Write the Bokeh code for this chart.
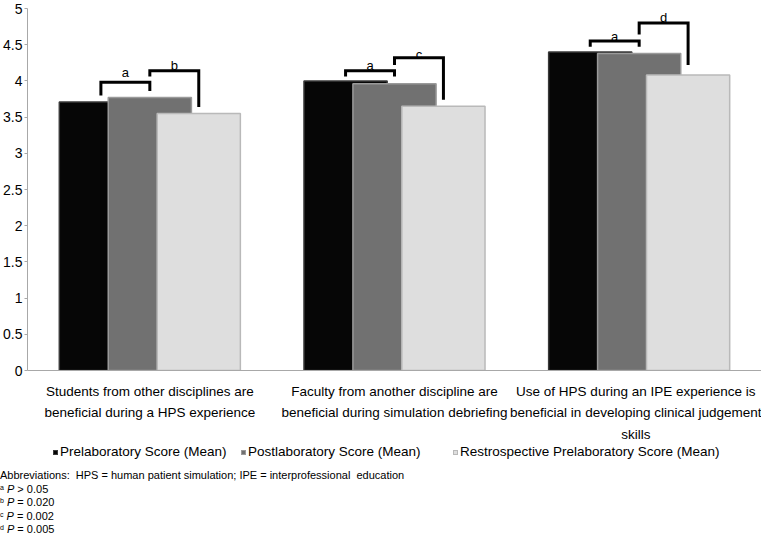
from bokeh.plotting import figure
from bokeh.layouts import column
from bokeh.models import FixedTicker, Div
from bokeh.core.properties import value
from bokeh.embed import file_html
from bokeh.resources import INLINE

# ---------------- data ----------------
categories = [
    "Students from other disciplines are\nbeneficial during a HPS experience",
    "Faculty from another discipline are\nbeneficial during simulation debriefing",
    "Use of HPS during an IPE experience is\nbeneficial in developing clinical judgement\nskills",
]
series_names = [
    "Prelaboratory Score (Mean)",
    "Postlaboratory Score (Mean)",
    "Restrospective Prelaboratory Score (Mean)",
]
prelab = [3.71, 4.00, 4.40]
postlab = [3.77, 3.96, 4.38]
retro = [3.55, 3.65, 4.08]

y_ticks = [0, 0.5, 1, 1.5, 2, 2.5, 3, 3.5, 4, 4.5, 5]
y_tick_labels = ["0", "0.5", "1", "1.5", "2", "2.5", "3", "3.5", "4", "4.5", "5"]

# significance brackets (group, from-series, to-series, heights)
bracket_group = [0, 0, 1, 1, 2, 2]
bracket_label = ["a", "b", "a", "c", "a", "d"]
bracket_from = [0, 1, 0, 1, 0, 1]
bracket_to = [1, 2, 1, 2, 1, 2]
bracket_top = [3.98, 4.14, 4.14, 4.32, 4.55, 4.80]
bracket_left_end = [3.80, 4.06, 4.06, 4.22, 4.47, 4.64]
bracket_right_end = [3.86, 3.64, 4.06, 3.74, 4.47, 4.22]
bracket_label_y = [4.12, 4.21, 4.21, 4.37, 4.62, 4.88]

abbreviation_note = "Abbreviations:&nbsp; HPS = human patient simulation; IPE = interprofessional&nbsp; education"
footnote_letters = ["a", "b", "c", "d"]
footnote_rest = ["&gt; 0.05", "= 0.020", "= 0.002", "= 0.005"]

# ---------------- styling ----------------
FONT = "Liberation Sans"
fills = ["#060606", "#717171", "#dedede"]
edges = ["#3a3a3a", "#9a9a9a", "#b9b9b9"]
offsets = [-0.2, 0.0, 0.2]
bar_w = 0.34
legend_left = [53, 241, 453]

p = figure(frame_width=734, frame_height=362, x_range=(0, 3), y_range=(0, 5),
           output_backend="svg", toolbar_location=None,
           min_border_top=8, min_border_left=22, min_border_right=0,
           min_border_bottom=66)
p.outline_line_color = None
p.xgrid.visible = False
p.ygrid.visible = False
p.background_fill_color = "white"

centers = [i + 0.5 for i in range(len(categories))]
series = [prelab, postlab, retro]
for k, vals in enumerate(series):
    xs = [c + offsets[k] for c in centers]
    p.vbar(x=xs, top=vals, width=bar_w, bottom=0,
           fill_color=fills[k], line_color=edges[k], line_width=1.5)

# brackets
bx, by = [], []
lx, ly = [], []
for g, f, t, top, le, re_, lyv in zip(bracket_group, bracket_from, bracket_to,
                                      bracket_top, bracket_left_end,
                                      bracket_right_end, bracket_label_y):
    x0 = centers[g] + offsets[f]
    x1 = centers[g] + offsets[t]
    bx.append([x0, x0, x1, x1])
    by.append([le, top, top, re_])
    lx.append((x0 + x1) / 2)
    ly.append(lyv)
p.multi_line(xs=bx, ys=by, line_color="black", line_width=3, line_join="miter")
p.text(x=lx, y=ly, text=bracket_label, text_align="center",
       text_baseline="middle", text_font=value(FONT),
       text_font_size="13px", text_color="#000000")

# axes
p.xaxis.ticker = FixedTicker(ticks=centers)
p.xaxis.major_label_overrides = {c: lab for c, lab in zip(centers, categories)}
p.xaxis.major_tick_line_color = None
p.xaxis.minor_tick_line_color = None
p.xaxis.axis_line_color = "#a8a8a8"
p.xaxis.major_label_standoff = 7
p.xaxis.major_label_text_font = FONT
p.xaxis.major_label_text_font_size = "13.5px"
p.xaxis.major_label_text_color = "black"
p.xaxis.major_label_text_line_height = 1.45

p.yaxis.ticker = FixedTicker(ticks=y_ticks)
p.yaxis.major_label_overrides = {t: s for t, s in zip(y_ticks, y_tick_labels)}
p.yaxis.axis_line_color = "#a8a8a8"
p.yaxis.major_tick_line_color = "#a8a8a8"
p.yaxis.major_tick_out = 3
p.yaxis.major_tick_in = 0
p.yaxis.minor_tick_line_color = None
p.yaxis.major_label_standoff = 2
p.yaxis.major_label_text_font = FONT
p.yaxis.major_label_text_font_size = "14px"
p.yaxis.major_label_text_color = "black"

# ---------------- legend + footnotes (HTML below the plot) ----------------
items = []
for k, name in enumerate(series_names):
    items.append(
        f'<div style="position:absolute;left:{legend_left[k]}px;top:0px;'
        f'height:14px;line-height:14px;white-space:nowrap;font-size:13.5px;">'
        f'<span style="display:inline-block;width:5px;height:5px;'
        f'background:{fills[k]};border:1px solid {edges[k]};'
        f'vertical-align:1px;margin-right:2px;"></span>{name}</div>'
    )
notes = [f'<div>{abbreviation_note}</div>']
for letter, rest in zip(footnote_letters, footnote_rest):
    notes.append(
        f'<div><span style="font-size:7px;vertical-align:3px;">{letter}</span>'
        f'&nbsp;<i>P</i> {rest}</div>'
    )
html = (
    f'<div style="position:relative;width:759px;height:84px;'
    f'font-family:\'{FONT}\';color:#000;">'
    + "".join(items)
    + '<div style="position:absolute;left:0px;top:25px;font-size:11px;'
      'line-height:11.5px;white-space:nowrap;">'
    + "".join(notes)
    + "</div></div>"
)
div = Div(text=html, width=759, height=84, margin=0)

layout = column(p, div, spacing=0)
open("out.html", "w").write(file_html(layout, INLINE))
